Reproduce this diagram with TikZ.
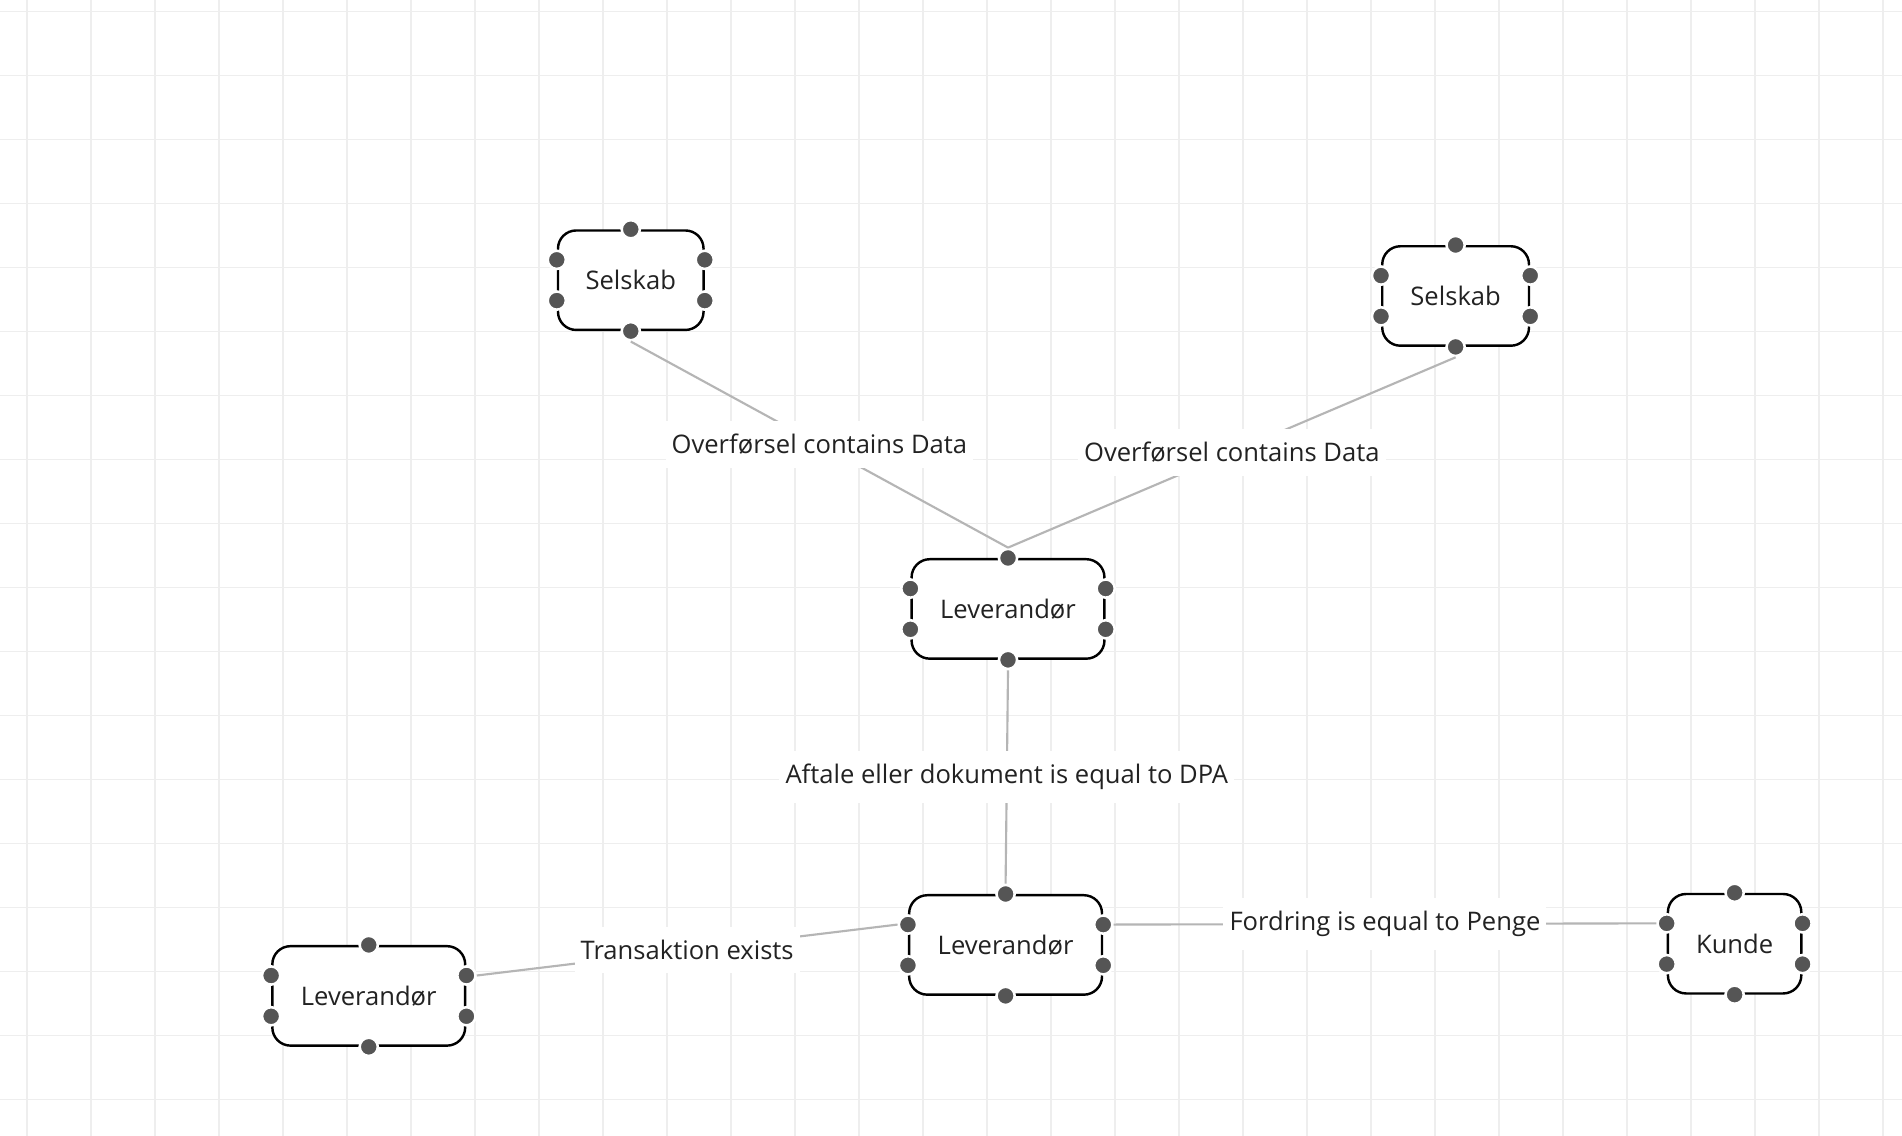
\documentclass[tikz,border=0pt]{standalone}
\usepackage{fontspec}
\setmainfont{Open Sans}
\usepackage{xcolor}
\usetikzlibrary{calc}
\definecolor{gridgray}{HTML}{EEEEEE}
\definecolor{edgegray}{HTML}{B5B5B5}
\definecolor{portgray}{HTML}{555555}
\definecolor{textgray}{HTML}{222222}
\tikzset{
    entity/.style={
        draw=black,
        fill=white,
        rounded corners=3mm,
        line width=0.4mm,
        minimum height=16.4mm,
        inner sep=0pt,
        text=textgray,
        font=\fontsize{12}{14}\selectfont
    },
    port/.style={
        circle,
        fill=portgray,
        draw=white,
        line width=1.2pt,
        minimum size=3mm,
        inner sep=0pt
    },
    relation/.style={
        draw=edgegray,
        line width=0.35mm
    },
    rellabel/.style={
        fill=white,
        inner xsep=1mm,
        inner ysep=2.2mm,
        text=textgray,
        font=\fontsize{12}{14}\selectfont
    },
    gridline/.style={draw=gridgray, line width=0.25mm}
}
% six connection dots round a box
\newcommand{\portsof}[1]{%
    \node[port] (#1-t) at (#1.north) {};
    \node[port] (#1-b) at (#1.south) {};
    \node[port] (#1-l1) at ($(#1.north west)!0.3!(#1.south west)$) {};
    \node[port] (#1-l2) at ($(#1.north west)!0.7!(#1.south west)$) {};
    \node[port] (#1-r1) at ($(#1.north east)!0.3!(#1.south east)$) {};
    \node[port] (#1-r2) at ($(#1.north east)!0.7!(#1.south east)$) {};
}

\begin{document}
\begin{tikzpicture}[x=0.2mm, y=-0.2mm]
  % Canvas and grid
  \fill[white] (0,0) rectangle (1568,936.5);
  \useasboundingbox (0,0) rectangle (1568,936.5);
  \foreach \i in {0,...,29}
    \draw[gridline] ({22.3+52.76*\i},0) -- ({22.3+52.76*\i},936.5);
  \foreach \j in {0,...,17}
    \draw[gridline] (0,{9.5+52.76*\j}) -- (1568,{9.5+52.76*\j});

  % Entities
  \node[entity, minimum width=24mm] (selskabA) at (520,231) {Selskab};
  \node[entity, minimum width=24.2mm] (selskabB) at (1200,244) {Selskab};
  \node[entity, minimum width=31.8mm] (levTop) at (831,502) {Leverandør};
  \node[entity, minimum width=31.8mm] (levMid) at (829,779) {Leverandør};
  \node[entity, minimum width=31.8mm] (levLeft) at (304,821) {Leverandør};
  \node[entity, minimum width=22mm] (kunde) at (1430,778) {Kunde};

  \portsof{selskabA}
  \portsof{selskabB}
  \portsof{levTop}
  \portsof{levMid}
  \portsof{levLeft}
  \portsof{kunde}

  % Relations
  \draw[relation] (selskabA-b.south) -- node[rellabel] {Overførsel contains Data} (levTop-t.north);
  \draw[relation] (selskabB-b.south) -- node[rellabel] {Overførsel contains Data} (levTop-t.north);
  \draw[relation] (levTop-b.south) -- node[rellabel] {Aftale eller dokument is equal to DPA} (levMid-t.north);
  \draw[relation] (levMid-l1.west) -- node[rellabel] {Transaktion exists} (levLeft-r1.east);
  \draw[relation] (levMid-r1.east) -- node[rellabel] {Fordring is equal to Penge} (kunde-l1.west);
\end{tikzpicture}
\end{document}
